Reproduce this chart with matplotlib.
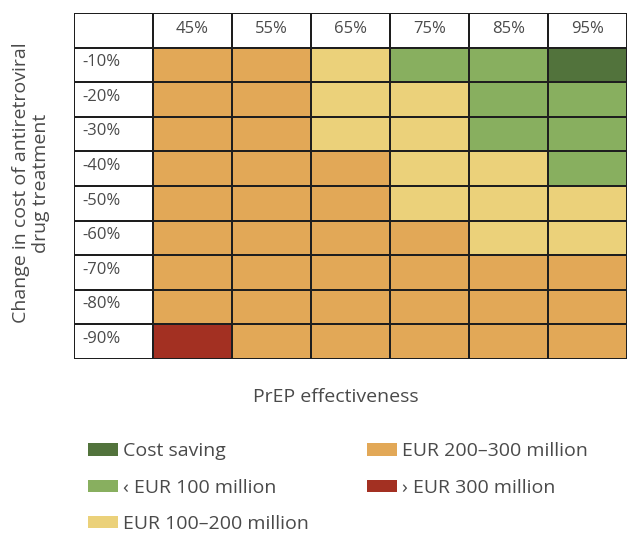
import matplotlib.pyplot as plt
import numpy as np
from matplotlib.colors import ListedColormap
from matplotlib.patches import Patch

plt.rcParams['font.family'] = ['Open Sans', 'DejaVu Sans']

# data
effectiveness = ["45%", "55%", "65%", "75%", "85%", "95%"]
cost_change = ["-10%", "-20%", "-30%", "-40%", "-50%", "-60%", "-70%", "-80%", "-90%"]
categories = ["Cost saving", "\u2039 EUR 100 million", "EUR 100\u2013200 million",
              "EUR 200\u2013300 million", "\u203a EUR 300 million"]
# 1 = cost saving, 2 = <100, 3 = 100-200, 4 = 200-300, 5 = >300
grid = [
    [4, 4, 3, 2, 2, 1],
    [4, 4, 3, 3, 2, 2],
    [4, 4, 3, 3, 2, 2],
    [4, 4, 4, 3, 3, 2],
    [4, 4, 4, 3, 3, 3],
    [4, 4, 4, 4, 3, 3],
    [4, 4, 4, 4, 4, 4],
    [4, 4, 4, 4, 4, 4],
    [5, 4, 4, 4, 4, 4],
]
colors = ["#52733C", "#88AF5F", "#EBD17A", "#E2A857", "#A33022"]

txt = "#4a4a4a"

fig = plt.figure(figsize=(6.27, 5.34), dpi=100)
W, H = 627, 534
ax = fig.add_axes([74 / W, 1 - 359 / H, (627 - 74) / W, (359 - 13) / H])

# full table incl. header row and label column (0 = white)
table = np.zeros((len(cost_change) + 1, len(effectiveness) + 1), dtype=int)
table[1:, 1:] = np.array(grid)
cmap = ListedColormap(["white"] + colors)
ax.pcolormesh(table, cmap=cmap, vmin=-0.5, vmax=5.5, edgecolors="#1e1e1e", linewidth=1.2)
ax.set_xlim(0, table.shape[1])
ax.set_ylim(table.shape[0], 0)
ax.axis("off")

for j, lab in enumerate(effectiveness):
    ax.text(j + 1.5, 0.45, lab, ha="center", va="center", fontsize=12, color=txt)
for i, lab in enumerate(cost_change):
    ax.text(0.1, i + 1.42, lab, ha="left", va="center", fontsize=12, color=txt)

fig.text(31 / W, 1 - 183 / H, "Change in cost of antiretroviral\ndrug treatment",
         rotation=90, ha="center", va="center", fontsize=14, color=txt, linespacing=1.1)
fig.text(336 / W, 1 - 397 / H, "PrEP effectiveness", ha="center", va="center",
         fontsize=14, color=txt)

handles = [Patch(facecolor=c, edgecolor="none") for c in colors]
leg = fig.legend(handles, categories, ncol=2, loc="upper left",
                 bbox_to_anchor=(70 / W, 1 - 425 / H), frameon=False,
                 fontsize=14, handlelength=1.55, handleheight=0.6, handletextpad=0.26,
                 labelspacing=0.94, columnspacing=3.0, labelcolor=txt)

fig.savefig("out.png", dpi=100)
